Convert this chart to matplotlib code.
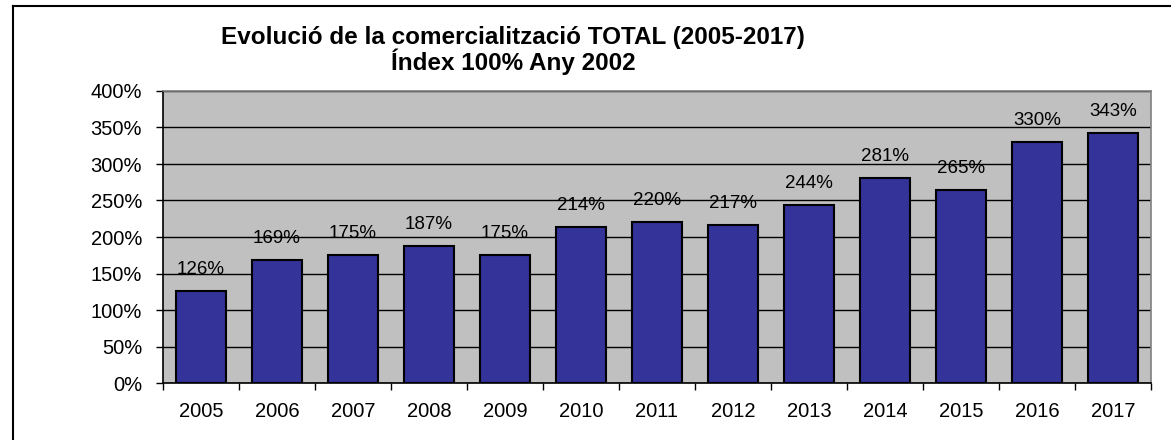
import matplotlib
matplotlib.use("Agg")
import matplotlib.pyplot as plt
from matplotlib.lines import Line2D

years = ["2005", "2006", "2007", "2008", "2009", "2010", "2011", "2012", "2013", "2014", "2015", "2016", "2017"]
values = [126, 169, 175, 187, 175, 214, 220, 217, 244, 281, 265, 330, 343]
yticks = [0, 50, 100, 150, 200, 250, 300, 350, 400]
title = "Evolució de la comercialització TOTAL (2005-2017)\nÍndex 100% Any 2002"

plt.rcParams['font.family'] = ['Liberation Sans', 'DejaVu Sans']

W, H = 1171, 440
fig = plt.figure(figsize=(W / 100, H / 100), dpi=100)
fig.patch.set_facecolor("white")

# plot area in pixels
left, right, top, bottom = 163, 1151, 91, 383
ax = fig.add_axes([left / W, 1 - bottom / H, (right - left) / W, (bottom - top) / H])
ax.set_facecolor("#C0C0C0")

x = list(range(len(years)))
ax.bar(x, values, width=0.67, color="#333399", edgecolor="black", linewidth=1.5, zorder=3)
ax.set_xlim(-0.5, len(years) - 0.5)
ax.set_ylim(0, 400)
ax.set_yticks(yticks)
ax.set_yticklabels([f"{v}%" for v in yticks], fontsize=14.5)
ax.yaxis.grid(True, color="black", linewidth=1, zorder=1)
ax.set_axisbelow(True)

ax.set_xticks(x)
ax.set_xticklabels(years, fontsize=14.5)
ax.tick_params(axis='x', length=0, pad=14)
ax.set_xticks([i - 0.5 for i in range(len(years) + 1)], minor=True)
ax.tick_params(axis='x', which='minor', length=5, width=1, color="black", direction='out')
ax.tick_params(axis='y', length=5, width=1, direction='out', pad=10)

for s in ("top", "right"):
    ax.spines[s].set_color("#808080")
    ax.spines[s].set_linewidth(1.2)
for s in ("left", "bottom"):
    ax.spines[s].set_color("black")
    ax.spines[s].set_linewidth(1.2)

for xi, v in zip(x, values):
    ax.annotate(f"{v}%", (xi, v), xytext=(0, 15.5), textcoords="offset points",
                ha="center", va="center", fontsize=13.5)

fig.text(513 / W, 1 - 50.5 / H, title, ha="center", va="center",
         fontsize=17.5, fontweight="bold", linespacing=0.97)

# outer border (left and top visible)
fig.add_artist(Line2D([13 / W, 13 / W], [0, 1 - 6 / H], transform=fig.transFigure, color="black", linewidth=1.5))
fig.add_artist(Line2D([13 / W, 1], [1 - 6 / H, 1 - 6 / H], transform=fig.transFigure, color="black", linewidth=1.5))

fig.savefig("out.png", dpi=100)
